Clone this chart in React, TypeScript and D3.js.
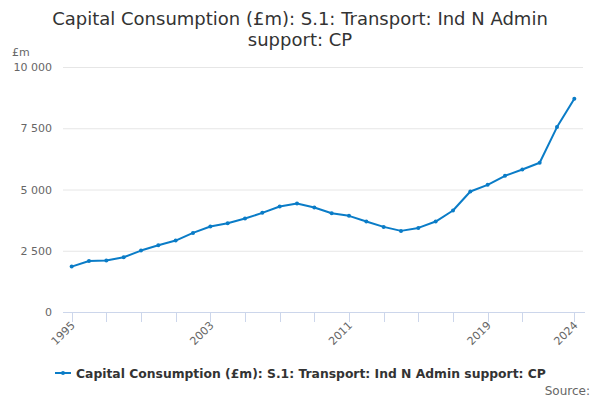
import React, { useEffect, useRef } from "react";
import * as d3 from "d3";

const years = d3.range(1995, 2025).map(String);
const values = [
  1853, 2084, 2098, 2234, 2507, 2725, 2916, 3229, 3488, 3624, 3815, 4046, 4305,
  4428, 4264, 4033, 3924, 3692, 3474, 3311, 3433, 3692, 4142, 4918, 5191, 5559,
  5817, 6090, 7548, 8706,
];
const yTicks = [0, 2500, 5000, 7500, 10000];
const xTickYears = [
  "1995", "1997", "1999", "2001", "2003", "2005", "2007", "2009", "2011",
  "2013", "2015", "2017", "2019", "2021", "2024",
];
const xLabelYears = ["1995", "2003", "2011", "2019", "2024"];
const seriesName = "Capital Consumption (£m): S.1: Transport: Ind N Admin support: CP";

const W = 600;
const H = 400;
const font = "'DejaVu Sans', Verdana, sans-serif";
const blue = "#0a7cc7";

export default function App() {
  const svgRef = useRef<SVGSVGElement>(null);

  useEffect(() => {
    const svg = d3.select(svgRef.current);
    svg.selectAll("*").remove();

    const left = 63;
    const right = 583;
    const top = 67;
    const bottom = 312;

    const x = d3.scalePoint().domain(years).range([left, right]).padding(0.5);
    const y = d3.scaleLinear().domain([0, 10000]).range([bottom, top]);

    // Title
    const title = svg
      .append("text")
      .attr("text-anchor", "middle")
      .attr("font-family", font)
      .attr("font-size", 18)
      .attr("fill", "#333");
    title.append("tspan").attr("x", W / 2).attr("y", 25).text("Capital Consumption (£m): S.1: Transport: Ind N Admin");
    title.append("tspan").attr("x", W / 2).attr("y", 46).text("support: CP");

    // Gridlines
    svg
      .append("g")
      .selectAll("line")
      .data(yTicks.filter((t) => t > 0))
      .join("line")
      .attr("x1", left)
      .attr("x2", right)
      .attr("y1", (d) => y(d) + 0.5)
      .attr("y2", (d) => y(d) + 0.5)
      .attr("stroke", "#e6e6e6");

    // Y labels
    svg
      .append("g")
      .selectAll("text")
      .data(yTicks)
      .join("text")
      .attr("x", 52)
      .attr("y", (d) => y(d) + 4)
      .attr("text-anchor", "end")
      .attr("font-family", font)
      .attr("font-size", 11)
      .attr("fill", "#666")
      .text((d) => d3.format(",")(d).replace(/,/g, " "));

    svg
      .append("text")
      .attr("x", 12)
      .attr("y", 56)
      .attr("font-family", font)
      .attr("font-size", 11)
      .attr("fill", "#666")
      .text("£m");

    // X axis
    svg
      .append("line")
      .attr("x1", left)
      .attr("x2", right + 2)
      .attr("y1", bottom + 0.5)
      .attr("y2", bottom + 0.5)
      .attr("stroke", "#ccd6eb");

    svg
      .append("g")
      .selectAll("line")
      .data(xTickYears)
      .join("line")
      .attr("x1", (d) => Math.round(x(d)!) + 0.5)
      .attr("x2", (d) => Math.round(x(d)!) + 0.5)
      .attr("y1", bottom)
      .attr("y2", bottom + 10)
      .attr("stroke", "#ccd6eb");

    svg
      .append("g")
      .selectAll("text")
      .data(xLabelYears)
      .join("text")
      .attr("transform", (d) => `translate(${x(d)! + 4},${bottom + 14}) rotate(-45)`)
      .attr("text-anchor", "end")
      .attr("font-family", font)
      .attr("font-size", 11)
      .attr("fill", "#666")
      .text((d) => d);

    // Line
    const line = d3
      .line<number>()
      .x((_, i) => x(years[i])!)
      .y((d) => y(d));

    svg
      .append("path")
      .datum(values)
      .attr("d", line)
      .attr("fill", "none")
      .attr("stroke", blue)
      .attr("stroke-width", 2)
      .attr("stroke-linejoin", "round");

    svg
      .append("g")
      .selectAll("circle")
      .data(values)
      .join("circle")
      .attr("cx", (_, i) => x(years[i])!)
      .attr("cy", (d) => y(d))
      .attr("r", 2)
      .attr("fill", blue);

    // Legend
    const legend = svg.append("g").attr("transform", "translate(55,373)");
    legend
      .append("line")
      .attr("x1", 0)
      .attr("x2", 16)
      .attr("stroke", blue)
      .attr("stroke-width", 2);
    legend.append("circle").attr("cx", 8).attr("r", 2).attr("fill", blue);
    legend
      .append("text")
      .attr("x", 21)
      .attr("y", 5)
      .attr("font-family", font)
      .attr("font-size", 12.35)
      .attr("font-weight", "bold")
      .attr("fill", "#333")
      .text(seriesName);

    svg
      .append("text")
      .attr("x", 590)
      .attr("y", 395)
      .attr("text-anchor", "end")
      .attr("font-family", font)
      .attr("font-size", 12)
      .attr("fill", "#666")
      .text("Source:");
  }, []);

  return (
    <svg
      ref={svgRef}
      width={W}
      height={H}
      style={{ position: "absolute", left: 0, top: 0, background: "#fff" }}
    />
  );
}
